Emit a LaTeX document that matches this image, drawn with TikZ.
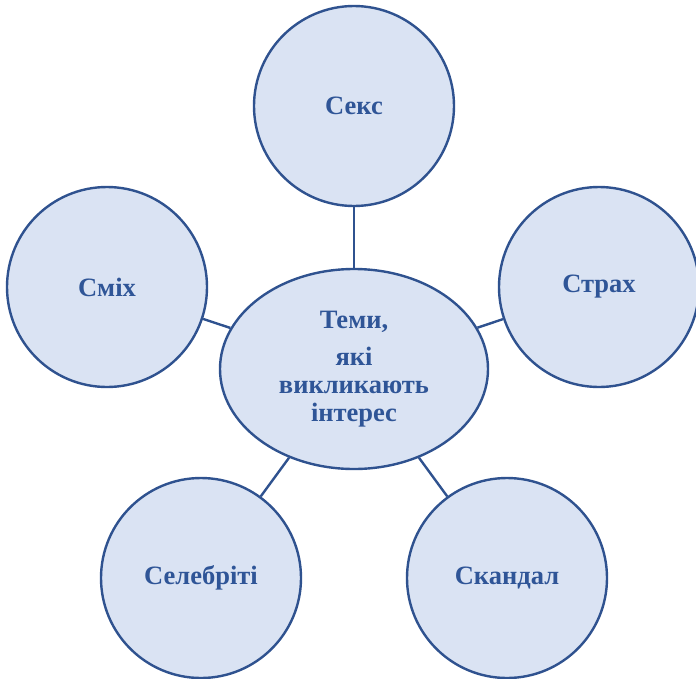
\documentclass[tikz,border=0pt]{standalone}
\usepackage{fontspec}
\setmainfont{Liberation Serif}
\usepackage{tikz}
\usetikzlibrary{shapes.geometric}

\definecolor{bubblefill}{RGB}{218,227,243}
\definecolor{bubbleline}{RGB}{47,82,143}
\definecolor{bubbletext}{RGB}{47,85,151}

\begin{document}
\begin{tikzpicture}[x=1pt, y=-1pt,
    topic/.style={circle, draw=bubbleline, fill=bubblefill, line width=2.4pt,
      minimum size=200pt, inner sep=0pt, text=bubbletext, font=\bfseries\fontsize{26.5}{28}\selectfont},
    hub/.style={ellipse, draw=bubbleline, fill=bubblefill, line width=2.4pt,
      minimum width=268pt, minimum height=200pt, inner sep=0pt, text=bubbletext,
      align=center, font=\bfseries\fontsize{26.5}{28}\selectfont},
    link/.style={draw=bubbleline, line width=2.4pt}]
    \useasboundingbox (0,0) rectangle (696,678);
    \node[hub] (H) at (354, 369) {Теми,\\[9pt] які\\ викликають\\ інтерес};
    \node[topic] (S1) at (354, 106) {Секс};
    \node[topic] (S2) at (599, 287) {Страх};
    \node[topic] (S3) at (107, 287) {Сміх};
    \node[topic] (S4) at (201, 578) {Селебріті};
    \node[topic] (S5) at (507, 578) {Скандал};
    \foreach \t in {S1, S2, S3, S4, S5}
      \draw[link] (H) -- (\t);
\end{tikzpicture}
\end{document}
